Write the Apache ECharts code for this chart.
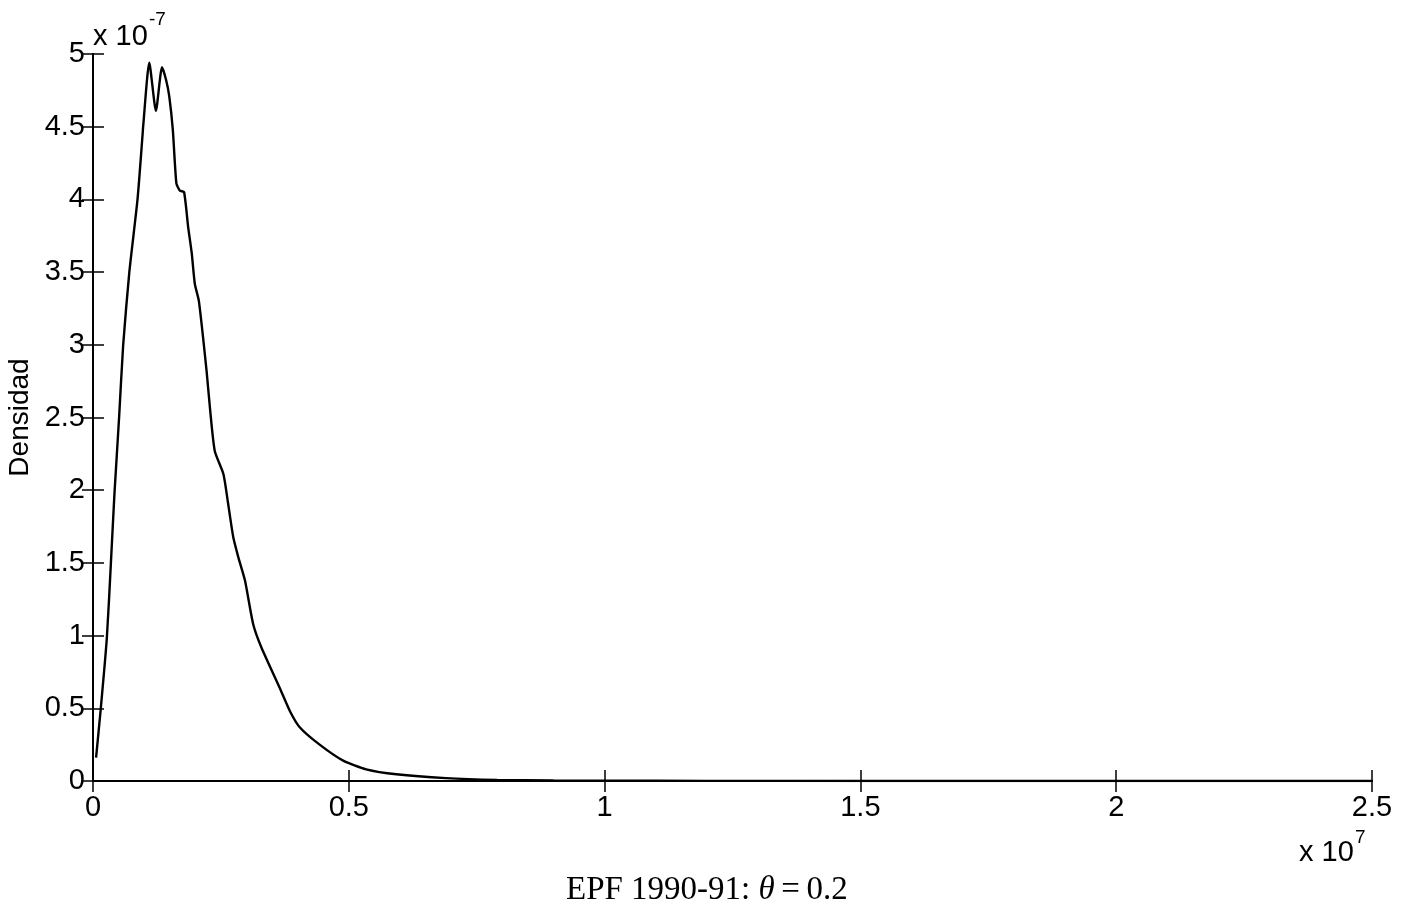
<!DOCTYPE html>
<html>
<head>
<meta charset="utf-8">
<script src="https://cdn.jsdelivr.net/npm/echarts@6/dist/echarts.min.js"></script>
<style>html,body{margin:0;padding:0;background:#fff;}#c{width:1407px;height:918px;}</style>
</head>
<body>
<div id="c"></div>
<script>
// x in units of 1e7, y in units of 1e-7
const xVals = [0.006,0.015,0.027,0.035,0.042,0.051,0.059,0.071,0.087,0.097,0.098,0.110,0.123,0.135,0.143,0.149,0.156,0.163,0.170,0.178,0.186,0.193,0.199,0.207,0.222,0.229,0.238,0.255,0.264,0.274,0.284,0.297,0.313,0.329,0.365,0.385,0.404,0.443,0.489,0.534,0.593,0.69,0.79,0.9,1.0,1.2,1.5,1.8,2.1,2.5];
const yVals = [0.16,0.49,0.98,1.50,1.98,2.50,3.00,3.50,4.00,4.45,4.50,4.94,4.61,4.91,4.82,4.71,4.48,4.11,4.06,4.05,3.81,3.63,3.42,3.30,2.82,2.55,2.27,2.11,1.91,1.68,1.54,1.38,1.08,0.92,0.64,0.48,0.37,0.25,0.14,0.08,0.046,0.02,0.008,0.004,0.002,0.001,0.0005,0.0003,0.0002,0.0001];
const xTicks = ['0','0.5','1','1.5','2','2.5'];
const yTicks = ['0','0.5','1','1.5','2','2.5','3','3.5','4','4.5','5'];
const yName = 'Densidad';

const chart = echarts.init(document.getElementById('c'));
const sans = 'Liberation Sans, Arial, sans-serif';
const tickFont = {fontFamily:sans, fontSize:29, color:'#000'};
const lineStyle = {color:'#000', width:2};
const tickStyle = {show:true, inside:true, length:11, lineStyle:{color:'#000', width:1.5}};
chart.setOption({
  animation:false,
  backgroundColor:'#fff',
  grid:{left:93, right:35, top:54, bottom:137, containLabel:false, outerBoundsMode:'none'},
  xAxis:[{
    type:'value', min:0, max:2.5, interval:0.5, position:'bottom',
    axisLine:{show:true, lineStyle:lineStyle}, axisTick:tickStyle,
    axisLabel:Object.assign({margin:12, formatter:(v)=>xTicks[Math.round(v/0.5)]}, tickFont),
    splitLine:{show:false}
  },{
    type:'value', min:0, max:2.5, interval:0.5, position:'top',
    axisLine:{show:true, lineStyle:lineStyle}, axisTick:tickStyle,
    axisLabel:{show:false}, splitLine:{show:false}
  }],
  yAxis:[{
    type:'value', min:0, max:5, interval:0.5, position:'left',
    name:yName, nameLocation:'middle', nameGap:58, nameRotate:90,
    nameTextStyle:{fontFamily:sans, fontSize:28, color:'#000'},
    axisLine:{show:true, lineStyle:lineStyle}, axisTick:tickStyle,
    axisLabel:Object.assign({margin:8, formatter:(v)=>yTicks[Math.round(v/0.5)]}, tickFont),
    splitLine:{show:false}
  },{
    type:'value', min:0, max:5, interval:0.5, position:'right',
    axisLine:{show:true, lineStyle:lineStyle}, axisTick:tickStyle,
    axisLabel:{show:false}, splitLine:{show:false}
  }],
  series:[{
    type:'line', data: xVals.map((x,i)=>[x,yVals[i]]), showSymbol:false, symbol:'none',
    smooth:0.2, lineStyle:{color:'#000', width:2.4}
  }],
  graphic:[
    {type:'text', left:93, top:22, style:{text:'x 10', fontFamily:sans, fontSize:29, fill:'#000'}},
    {type:'text', left:149, top:10, style:{text:'-7', fontFamily:sans, fontSize:19, fill:'#000'}},
    {type:'text', left:1299, top:838, style:{text:'x 10', fontFamily:sans, fontSize:29, fill:'#000'}},
    {type:'text', left:1355, top:828, style:{text:'7', fontFamily:sans, fontSize:19, fill:'#000'}},
    {type:'text', left:566, top:874, style:{
      text:'{n|EPF 1990-91: }{i|θ}{n|\u2009=\u20090.2}',
      rich:{
        n:{fontFamily:'Liberation Serif, Times New Roman, serif', fontSize:33, fill:'#000'},
        i:{fontFamily:'Liberation Serif, Times New Roman, serif', fontSize:33, fontStyle:'italic', fill:'#000'}
      }}}
  ]
});
</script>
</body>
</html>
